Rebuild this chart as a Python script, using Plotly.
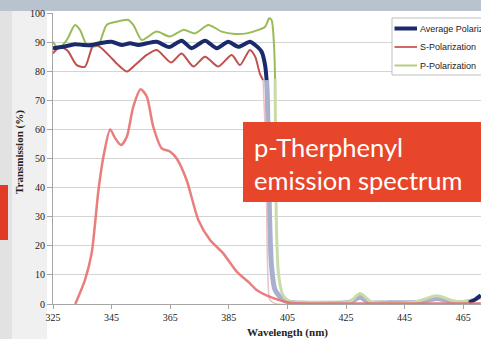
import plotly.graph_objects as go

# ---------------- data ----------------
avg_wl = [325, 328.5, 332.5, 335.3, 338.2, 341, 345, 348.4, 351.3, 354.1, 357, 360.4, 364.6,
          368.9, 372.3, 376.9, 380.9, 384.8, 388.2, 392.2, 394, 396.2, 397.4, 397.9,
          398.2, 398.5, 399, 399.6, 400.8, 403.6, 406, 415, 426, 429.8, 433, 440, 450, 456, 462, 467,
          469, 471]
avg_t = [87.9, 88.4, 89.3, 89, 89, 89.6, 90.1, 89, 89.6, 89, 89.6, 90.1, 88.3,
         90.5, 87.9, 90.5, 87.9, 90.1, 88.4, 90.1, 89, 86.7, 82, 76.9,
         70, 49.5, 26.6, 12.8, 4.8, 1.4, 0.5, 0.3, 0.5, 2.3, 0.5, 0.4, 0.6, 1.9, 0.6, 0.5,
         1.5, 3]
AVG_MAIN_END = 24     # index after last solid point
AVG_TAIL_START = 39   # start of dark tail at right edge

s_wl = [325, 327.4, 330, 333.1, 335.9, 338.8, 341, 344.5, 347.3, 350.2, 353, 357, 360.4, 365.3,
        368.9, 372.9, 376.9, 381.4, 386, 388.8, 392.2, 394, 395.6, 396.7,
        397.4, 397.7, 398, 398.4, 399, 400.8, 471]
s_t = [86.1, 88.4, 87, 82.1, 81.5, 89, 88.4, 85, 82.1, 79.9, 82.1, 85.6, 87.3, 83.0,
       86.1, 81.6, 85, 81.6, 85.6, 82.1, 87.3, 85, 79.2, 77,
       60, 53, 25, 8, 1.4, 0.2, 0.2]
S_MAIN_END = 24

p_wl = [325, 326.8, 329.7, 332.5, 334.2, 336.5, 338.2, 340.5, 343.3, 346.7, 350.7, 352.4, 355.3,
        357.5, 360.4, 364.9, 369.5, 373.5, 378, 382.6, 387.1, 391.1, 395.1, 397.4, 398.8, 399.6,
        400.4, 400.8,
        401, 401.3, 402, 403.5, 406, 415, 426, 429.8, 434, 448, 456, 463, 471]
p_t = [90.1, 87.9, 90.7, 95.9, 94.2, 89, 88.4, 89, 95.9, 97, 97.6, 95.9, 90.7,
       91.9, 93.6, 91.9, 94.2, 93, 95.9, 93.6, 92.8, 93, 94.2, 95.3, 98.2, 97.6,
       89.6, 77.3,
       50, 25, 10, 3, 0.8, 0.5, 0.6, 3.6, 0.6, 0.6, 2.8, 0.8, 2]
P_MAIN_END = 28

em_wl = [332.6, 335.9, 338.2, 340.5, 342.2, 344.5, 346.2, 348.2, 350.2, 352.4, 354.9, 357, 359.2,
         362.1, 364.9, 367.2, 370.6, 374.6, 378.6, 383.1, 387.7, 392.2, 394.5, 400.2, 405.9,
         415, 430, 450, 471]
em_t = [0, 8.2, 17.5, 39, 50.6, 60, 57, 54.6, 57.5, 67.8, 73.8, 71.3, 61,
        53.5, 52.4, 50, 42.6, 28.9, 22, 17.4, 11.1, 7.1, 4.8, 2, 0.4,
        0.2, 0.2, 0.2, 0.2]

x_ticks = [325, 345, 365, 385, 405, 425, 445, 465]
y_ticks = [0, 10, 20, 30, 40, 50, 60, 70, 80, 90, 100]
legend_names = ["Average Polarization", "S-Polarization", "P-Polarization"]
box_lines = ["p-Therphenyl", "emission spectrum"]

# ---------------- layout helpers ----------------
W, H = 481, 339
ML, MR, MT, MB = 53, 0, 13, 35
PW, PH = W - ML - MR, H - MT - MB


def px(p):
    return (p - ML) / PW


def py(p):
    return (H - MB - p) / PH


NAVY = "#1B2A6B"
RED = "#C0504D"
GREEN = "#9BBB59"
legend_colors = [NAVY, "#D0696A", "#B5CC85"]
legend_widths = [4, 2, 2]

fig = go.Figure()
sp = dict(shape="spline", smoothing=0.7)

# faded parts (drawn first)
fig.add_trace(go.Scatter(x=avg_wl[AVG_MAIN_END - 1:AVG_TAIL_START + 1], y=avg_t[AVG_MAIN_END - 1:AVG_TAIL_START + 1],
                         mode="lines", line=dict(color="#A8B0CE", width=5, **sp), hoverinfo="skip"))
fig.add_trace(go.Scatter(x=p_wl[P_MAIN_END - 1:], y=p_t[P_MAIN_END - 1:], mode="lines",
                         line=dict(color="#C9DCA8", width=3, **sp), hoverinfo="skip"))
fig.add_trace(go.Scatter(x=s_wl[S_MAIN_END - 1:], y=s_t[S_MAIN_END - 1:], mode="lines",
                         line=dict(color="#EDBFC6", width=1.5, **sp), hoverinfo="skip"))
fig.add_trace(go.Scatter(x=avg_wl[AVG_TAIL_START:], y=avg_t[AVG_TAIL_START:], mode="lines",
                         line=dict(color=NAVY, width=4, **sp), hoverinfo="skip"))

# main series
fig.add_trace(go.Scatter(x=p_wl[:P_MAIN_END], y=p_t[:P_MAIN_END], mode="lines", name=legend_names[2],
                         line=dict(color=GREEN, width=2, **sp)))
fig.add_trace(go.Scatter(x=s_wl[:S_MAIN_END], y=s_t[:S_MAIN_END], mode="lines", name=legend_names[1],
                         line=dict(color=RED, width=2, **sp)))
fig.add_trace(go.Scatter(x=avg_wl[:AVG_MAIN_END], y=avg_t[:AVG_MAIN_END], mode="lines", name=legend_names[0],
                         line=dict(color=NAVY, width=4, **sp)))

# emission spectrum
fig.add_trace(go.Scatter(x=em_wl, y=em_t, mode="lines", line=dict(color="#E8716F", width=2.5, **sp),
                         opacity=0.9, hoverinfo="skip"))

serif = "Liberation Serif"
shapes = [
    # top band
    dict(type="rect", xref="paper", yref="paper", x0=px(0), x1=px(W), y0=py(11), y1=py(0),
         fillcolor="#B9C3CF", line=dict(width=0), layer="below"),
    # left strip
    dict(type="rect", xref="paper", yref="paper", x0=px(0), x1=px(47), y0=py(H), y1=py(11),
         fillcolor="#F0F0F0", line=dict(width=0), layer="below"),
    dict(type="rect", xref="paper", yref="paper", x0=px(0), x1=px(12), y0=py(H), y1=py(11),
         fillcolor="#E2E2E2", line=dict(width=0), layer="below"),
    dict(type="rect", xref="paper", yref="paper", x0=px(0), x1=px(8), y0=py(240), y1=py(185),
         fillcolor="#E23B25", line=dict(width=0), layer="below"),
    # orange label box
    dict(type="rect", xref="paper", yref="paper", x0=px(243), x1=px(W + 5), y0=py(202), y1=py(122),
         fillcolor="#E8462B", line=dict(width=0), layer="above"),
    # legend box
    dict(type="rect", xref="paper", yref="paper", x0=px(392), x1=px(W + 5), y0=py(75), y1=py(18),
         fillcolor="white", line=dict(color="#BFBFBF", width=1), layer="above"),
]
annotations = []
leg_y = [28.5, 47, 65.5]
for name, col, lw, yy in zip(legend_names, legend_colors, legend_widths, leg_y):
    shapes.append(dict(type="line", xref="paper", yref="paper", x0=px(394.5), x1=px(417), y0=py(yy), y1=py(yy),
                       line=dict(color=col, width=lw), layer="above"))
    annotations.append(dict(text=name, xref="paper", yref="paper", x=px(417.5), y=py(yy), xanchor="left",
                            yanchor="middle", showarrow=False,
                            font=dict(family="Liberation Sans", size=9, color="#222")))

annotations += [
    dict(text="<br>".join(box_lines), xref="paper", yref="paper", x=px(252), y=py(164), xanchor="left",
         yanchor="middle", align="left", showarrow=False,
         font=dict(family="Lato", size=25.5, color="white")),
    dict(text="<b>Transmission (%)</b>", xref="paper", yref="paper", x=px(19), y=py(152), textangle=-90,
         showarrow=False, xanchor="center", yanchor="middle", font=dict(family=serif, size=11, color="#222")),
    dict(text="<b>Wavelength (nm)</b>", xref="paper", yref="paper", x=px(287), y=py(332),
         showarrow=False, xanchor="center", yanchor="middle", font=dict(family=serif, size=11, color="#222")),
]

fig.update_layout(
    width=W, height=H,
    margin=dict(l=ML, r=MR, t=MT, b=MB, pad=0),
    paper_bgcolor="white", plot_bgcolor="white",
    showlegend=False,
    shapes=shapes, annotations=annotations,
    xaxis=dict(range=[325, 325 + PW / 2.93], tickvals=x_ticks, ticktext=[str(v) for v in x_ticks],
               showgrid=False, zeroline=False, showline=True, linecolor="#A6A6A6", linewidth=1,
               ticks="outside", ticklen=4, tickcolor="#A6A6A6",
               tickfont=dict(family=serif, size=10, color="#222")),
    yaxis=dict(range=[0, 100], tickvals=y_ticks, showgrid=True, gridcolor="#D4D4D4", gridwidth=1,
               zeroline=False, showline=True, linecolor="#A6A6A6", linewidth=1,
               ticks="outside", ticklen=5, tickcolor="#A6A6A6",
               tickfont=dict(family=serif, size=10, color="#222")),
)

fig.write_html("out.html")
